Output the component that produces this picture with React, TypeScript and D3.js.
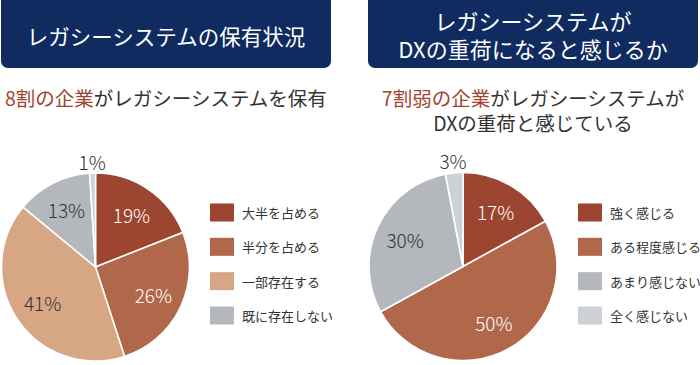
import React from 'react';
import * as d3 from 'd3';

const leftCategories = ['大半を占める', '半分を占める', '一部存在する', '既に存在しない', 'その他'];
const leftValues = [19, 26, 41, 13, 1];
const rightCategories = ['強く感じる', 'ある程度感じる', 'あまり感じない', '全く感じない'];
const rightValues = [17, 50, 30, 3];

const leftColors = ['#9c4530', '#b0674a', '#d7a685', '#b4b7bb', '#ced1d5'];
const rightColors = ['#9c4530', '#b0674a', '#b4b7bb', '#ced1d5'];
const labelFill = ['#ffffff', '#ffffff', '#333333', '#333333', '#333333'];
const rightLabelFill = ['#ffffff', '#ffffff', '#333333', '#333333'];

const NAVY = '#0f2b5f';
const RUST = '#a0452f';
const FONT = '"Noto Sans CJK JP", "Noto Sans", sans-serif';

interface PieProps {
  cx: number;
  cy: number;
  values: number[];
  colors: string[];
  textColors: string[];
  legend: string[];
  legendX: number;
}

function Pie({ cx, cy, values, colors, textColors, legend, legendX }: PieProps) {
  const r = 94;
  const pie = d3.pie<number>().sort(null).value(d => d);
  const arcs = pie(values);
  const arc = d3.arc<d3.PieArcDatum<number>>().innerRadius(0).outerRadius(r);
  const inner = d3.arc<d3.PieArcDatum<number>>().innerRadius(64).outerRadius(64);
  const outer = d3.arc<d3.PieArcDatum<number>>().innerRadius(106).outerRadius(106);
  const rowY = d3.scalePoint<number>().domain(d3.range(4)).range([212.5, 315.5]);

  return (
    <g>
      <g transform={`translate(${cx},${cy})`}>
        {arcs.map((a, i) => (
          <path key={i} d={arc(a) || ''} fill={colors[i]} stroke="#fff" strokeWidth={1.6} />
        ))}
        {arcs.map((a, i) => {
          const small = a.data < 5;
          const [x, y] = small ? outer.centroid(a) : inner.centroid(a);
          return (
            <text key={'t' + i} x={x} y={y} textAnchor="middle" dominantBaseline="central"
              fontSize={19} fontFamily={FONT} fontWeight={300}
              fill={small ? '#333' : textColors[i]}>
              {a.data}%
            </text>
          );
        })}
      </g>
      {legend.map((name, i) => (
        <g key={'l' + i} transform={`translate(${legendX},${rowY(i)})`}>
          <rect x={0} y={-9} width={24} height={18} fill={colors[i]} />
          <text x={32} y={0} dominantBaseline="central" fontSize={13}
            fontFamily={FONT} fill="#333">{name}</text>
        </g>
      ))}
    </g>
  );
}

export default function App() {
  return (
    <div style={{ position: 'absolute', left: 0, top: 0 }}>
      <svg width={700} height={365} style={{ display: 'block', background: '#fff' }}>
        <rect x={1} y={-8} width={330} height={76} rx={7} fill={NAVY} />
        <text x={166} y={35} textAnchor="middle" dominantBaseline="central"
          fontSize={21.5} fontFamily={FONT} fill="#fff">レガシーシステムの保有状況</text>

        <rect x={368} y={-8} width={330} height={76} rx={7} fill={NAVY} />
        <text x={533} y={20} textAnchor="middle" dominantBaseline="central"
          fontSize={22} fontFamily={FONT} fill="#fff">レガシーシステムが</text>
        <text x={533} y={48} textAnchor="middle" dominantBaseline="central"
          fontSize={22} fontFamily={FONT} fill="#fff">DXの重荷になると感じるか</text>

        <text x={5} y={97} dominantBaseline="central" fontSize={19.5}
          fontFamily={FONT} fill="#333">
          <tspan fill={RUST}>8割の企業</tspan>がレガシーシステムを保有
        </text>
        <text x={533} y={97} textAnchor="middle" dominantBaseline="central" fontSize={19.5}
          fontFamily={FONT} fill="#333">
          <tspan fill={RUST}>7割弱の企業</tspan>がレガシーシステムが
        </text>
        <text x={533} y={122} textAnchor="middle" dominantBaseline="central" fontSize={19.5}
          fontFamily={FONT} fill="#333">DXの重荷と感じている</text>

        <Pie cx={95.5} cy={267} values={leftValues} colors={leftColors} textColors={labelFill}
          legend={leftCategories.slice(0, 4)} legendX={210} />
        <Pie cx={463} cy={266.5} values={rightValues} colors={rightColors} textColors={rightLabelFill}
          legend={rightCategories} legendX={578} />
      </svg>
    </div>
  );
}
